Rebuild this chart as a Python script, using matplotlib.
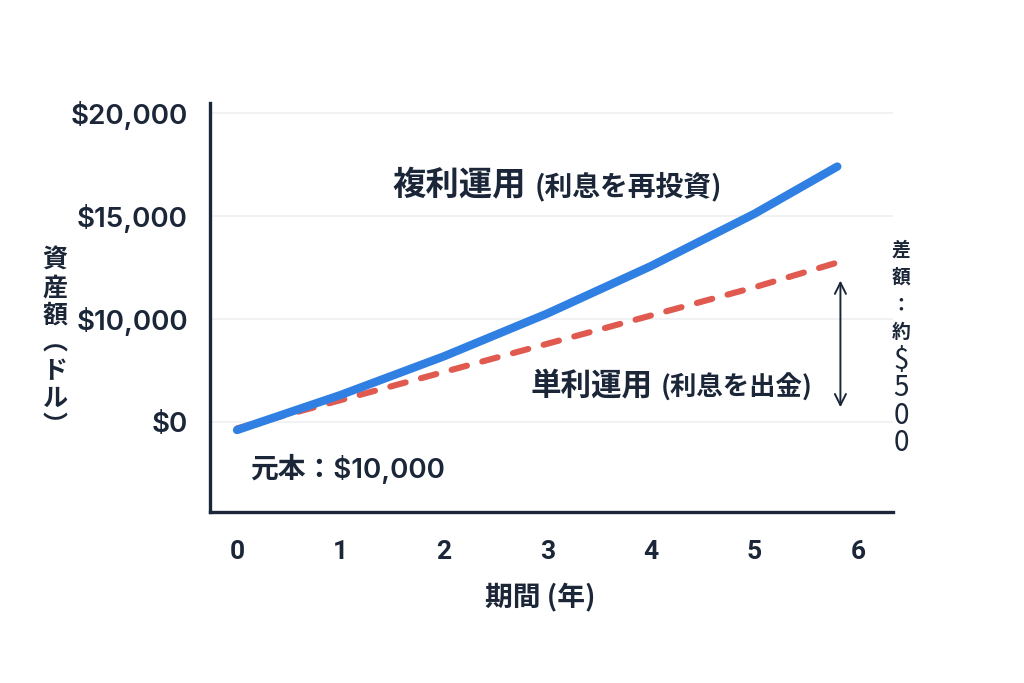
import matplotlib
matplotlib.use("Agg")
import matplotlib.pyplot as plt

plt.rcParams['font.family'] = ['Noto Sans CJK JP', 'DejaVu Sans']

# ---- data ----
years_compound = [0, 1, 2, 3, 4, 5, 5.8]
compound_vals = [-390, 1310, 3190, 5270, 7570, 10110, 12400]
years_simple = [0, 1, 2, 3, 4, 5, 5.82]
simple_vals = [-310, 1060, 2430, 3800, 5170, 6540, 7770]
x_ticks = [0, 1, 2, 3, 4, 5, 6]
y_ticks = [0, 5000, 10000, 15000]
y_tick_labels = ['$0', '$10,000', '$15,000', '$20,000']
arrow_x = 5.83
arrow_range = (7000, 580)

label_compound = '複利運用'
label_compound_sub = '(利息を再投資)'
label_simple = '単利運用'
label_simple_sub = '(利息を出金)'
principal_text = '元本：$10,000'
diff_chars = ['差', '額', '：', '約', '$', '5', '0', '0']
ylabel_chars = ['資', '産', '額', '︵', 'ド', 'ル', '︶']
xlabel = '期間 (年)'

NAVY = '#1b2638'
BLUE = '#2f80e2'
RED = '#e05a4f'
GRID = '#eef0f2'
NUM_FONT = ['Inter', 'Noto Sans CJK JP', 'DejaVu Sans']

W, H = 1024, 683
fig = plt.figure(figsize=(W / 100, H / 100), dpi=100)
ax = fig.add_axes([210 / W, 1 - 512 / H, (893 - 210) / W, (512 - 103) / H])

def fx(px):
    return px / W

def fy(py):
    return 1 - py / H

ax.plot(years_simple, simple_vals, color=RED, lw=4.4, dashes=(2.6, 2.6),
        dash_capstyle='round', solid_capstyle='round', zorder=3)
ax.plot(years_compound, compound_vals, color=BLUE, lw=6.0,
        solid_capstyle='round', solid_joinstyle='round', zorder=4)

ax.set_xlim(-0.261, 6.338)
ax.set_ylim(-4369, 15485)
ax.set_xticks(x_ticks)
ax.set_xticklabels([str(t) for t in x_ticks], fontsize=19, color=NAVY,
                   fontweight='semibold', family=['Roboto', 'DejaVu Sans'])
ax.set_yticks(y_ticks)
ax.set_yticklabels(y_tick_labels, fontsize=20, color=NAVY, fontweight='semibold',
                   family=NUM_FONT)
ax.tick_params(axis='both', length=0)
ax.tick_params(axis='y', pad=16)
ax.tick_params(axis='x', pad=20)
ax.grid(axis='y', color=GRID, lw=1.2, zorder=0)
for s in ['top', 'right']:
    ax.spines[s].set_visible(False)
for s in ['left', 'bottom']:
    ax.spines[s].set_color(NAVY)
    ax.spines[s].set_linewidth(2.4)

ax.annotate('', xy=(arrow_x, arrow_range[0]), xytext=(arrow_x, arrow_range[1]),
            arrowprops=dict(arrowstyle='<->', color=NAVY, lw=1.4,
                            mutation_scale=20))

# series labels
fig.text(fx(392), fy(185), label_compound, fontsize=24, fontweight='bold',
         color=NAVY, ha='left', va='center')
fig.text(fx(535), fy(187), label_compound_sub, fontsize=20, fontweight='bold',
         color=NAVY, ha='left', va='center')
fig.text(fx(530), fy(386), label_simple, fontsize=22, fontweight='bold',
         color=NAVY, ha='left', va='center')
fig.text(fx(661), fy(388), label_simple_sub, fontsize=19, fontweight='bold',
         color=NAVY, ha='left', va='center')
fig.text(fx(250), fy(469), principal_text, fontsize=20, fontweight='semibold',
         color=NAVY, ha='left', va='center', family=NUM_FONT)

# x label
fig.text(fx(540), fy(598), xlabel, fontsize=20, fontweight='bold',
         color=NAVY, ha='center', va='center')

# vertical y label
for i, ch in enumerate(ylabel_chars):
    fig.text(fx(55), fy(261 + i * 27.5), ch, fontsize=18, fontweight='bold',
             color=NAVY, ha='center', va='center')

# vertical difference annotation
for i, ch in enumerate(diff_chars):
    is_cjk = ch in '差額：約'
    fig.text(fx(901), fy(250 + i * 27.6), ch,
             fontsize=13.5 if is_cjk else 20,
             fontweight='bold' if is_cjk else 'normal',
             color=NAVY, ha='center', va='center')

fig.savefig('out.png', dpi=100, facecolor='white')
